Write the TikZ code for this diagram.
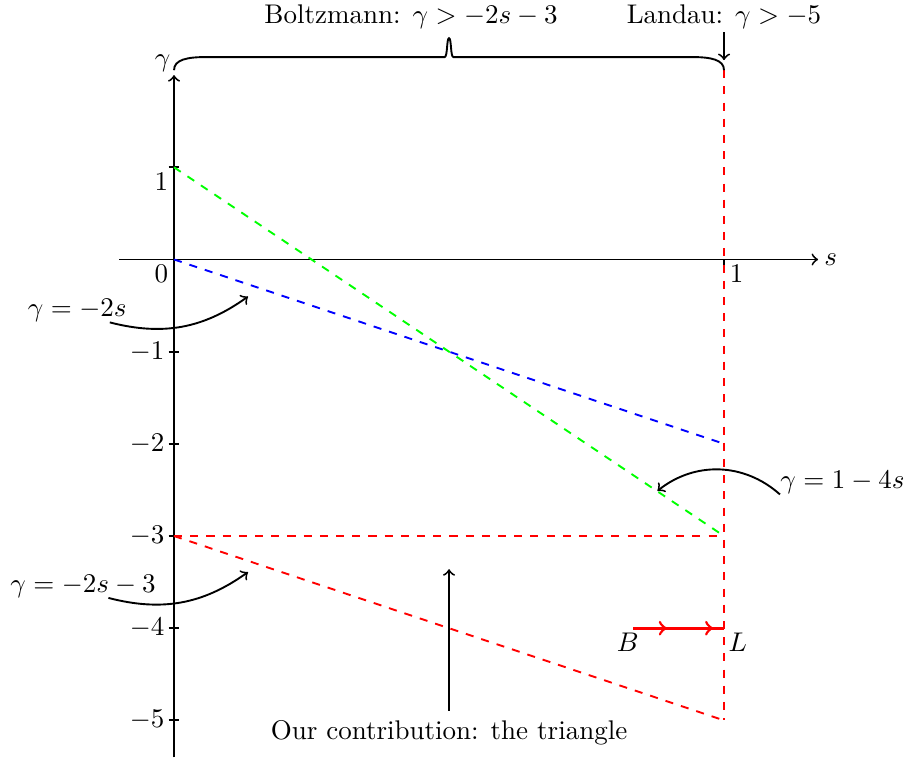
\documentclass[tikz,border=0pt]{standalone}
\usepackage{amsmath,amssymb}
\usepackage{xcolor}
\usepackage{tikz}
\usetikzlibrary{decorations.markings,positioning}

\begin{document}
\begin{tikzpicture}[x=7.16cm, y=1.2cm,
      ax/.style={line width=0.7pt, ->},
      bound/.style={line width=0.7pt, dashed},
      carr/.style={line width=0.7pt, ->},
      lbl/.style={inner sep=0pt},
      flow/.style={line width=1pt, red, postaction={decorate},
                   decoration={markings, mark=at position 0.37 with {\arrow{>}},
                               mark=at position 0.88 with {\arrow{>}}}}]
    \useasboundingbox (-0.3164,-5.435) rectangle (1.3327,2.815);
    % axes
    \coordinate (o) at (0,0);
    \coordinate (p1) at (0,1);
    \coordinate (ybot) at (0,-5.4);
    \coordinate (ytop) at (0,2);
    \coordinate (xl) at (-0.1,0);
    \coordinate (xr) at (1.171,0);
    \draw[ax] (ybot) -- (ytop) node[above left, inner sep=1pt] (gam) {$\gamma$};
    \draw[ax] (xl) -- (xr) node[right, inner sep=2pt] (sl) {$s$};
    \foreach \y in {-5,...,-1} {
      \draw[line width=0.7pt] ([xshift=-2pt]0,\y) -- ([xshift=2pt]0,\y);
      \node[left] (t\y) at (0,\y) {$\y$};
    }
    \draw[line width=0.7pt] ([xshift=-2pt]0,1) -- ([xshift=2pt]0,1);
    \node[below left, inner sep=2pt] (tone) at (p1) {$1$};
    \node[below left, inner sep=2pt] (tzero) at (o) {$0$};
    \draw[line width=0.7pt] (1,0) -- ([yshift=-2pt]1,0);
    \node[below right, inner sep=2pt] (sone) at (1,0) {$1$};
    % corners of the regions
    \coordinate (m3) at (0,-3);
    \coordinate (q0) at (1,2.054);
    \coordinate (q2) at (1,-2);
    \coordinate (q3) at (1,-3);
    \coordinate (q5) at (1,-5);
    \draw[bound, red] (q0) -- (q5);
    \draw[bound, blue] (o) -- (q2);
    \draw[bound, green] (p1) -- (q3);
    \draw[bound, red] (m3) -- (q3);
    \draw[bound, red] (m3) -- (q5);
    % brace and the known ranges
    \coordinate (br) at (0,2.054);
    \draw[line width=0.7pt] (br) .. controls (0,2.17) and (0.025,2.196) .. (0.058,2.196)
      -- (0.492,2.196) .. controls (0.4975,2.196) and (0.4955,2.40) .. (0.5,2.40)
      .. controls (0.5045,2.40) and (0.5025,2.196) .. (0.508,2.196)
      -- (0.942,2.196) .. controls (0.975,2.196) and (1,2.17) .. (q0);
    \node (boltz) at (0.431,2.63) {Boltzmann: $\gamma > -2s - 3$};
    \node[inner sep=1pt] (landau) at (1,2.63) {Landau: $\gamma > -5$};
    \coordinate (lt) at (1,2.163);
    \draw[carr] (landau) -- (lt);
    % B to L
    \coordinate (b) at (0.835,-4);
    \coordinate (l) at (1,-4);
    \draw[flow] (b) -- (l);
    \node[below, inner sep=1.5pt, xshift=-2pt] (bl) at (b) {$B$};
    \node[below right, inner sep=1.5pt] (ll) at (l) {$L$};
    % callouts
    \node[lbl] (eqa) at (-0.176,-0.554) {$\gamma = -2s$};
    \coordinate (ta) at (0.1345,-0.402);
    \draw[carr] (eqa.-20) to[bend right=25] (ta);
    \node[lbl] (eqb) at (1.2155,-2.42) {$\gamma = 1 - 4s$};
    \coordinate (tb) at (0.879,-2.51);
    \draw[carr] (eqb.south west) to[bend right=40] (tb);
    \node[lbl] (eqc) at (-0.1655,-3.543) {$\gamma = -2s - 3$};
    \coordinate (tc) at (0.1345,-3.391);
    \draw[carr] (eqc.-25) to[bend right=25] (tc);
    \node (ours) at (0.5,-5.13) {Our contribution: the triangle};
    \coordinate (tri) at (0.5,-3.36);
    \draw[carr] (ours) -- (tri);
\end{tikzpicture}
\end{document}
